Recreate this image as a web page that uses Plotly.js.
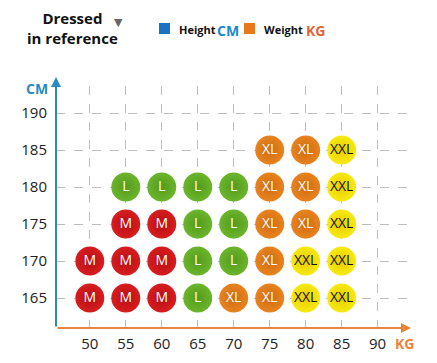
<!DOCTYPE html>
<html><head><meta charset="utf-8">
<script src="https://cdn.plot.ly/plotly-3.0.1.min.js"></script>
<style>html,body{margin:0;padding:0;background:#fff;}#chart{width:437px;height:363px;}</style>
</head><body><div id="chart"></div>
<script>
// ---- data ----
const weightTicks = [50, 55, 60, 65, 70, 75, 80, 85, 90];
const heightTicks = [165, 170, 175, 180, 185, 190];
const pointWeight = [75, 80, 85,
  55, 60, 65, 70, 75, 80, 85,
  55, 60, 65, 70, 75, 80, 85,
  50, 55, 60, 65, 70, 75, 80, 85,
  50, 55, 60, 65, 70, 75, 80, 85];
const pointHeight = [185, 185, 185,
  180, 180, 180, 180, 180, 180, 180,
  175, 175, 175, 175, 175, 175, 175,
  170, 170, 170, 170, 170, 170, 170, 170,
  165, 165, 165, 165, 165, 165, 165, 165];
const pointSize = ['XL', 'XL', 'XXL',
  'L', 'L', 'L', 'L', 'XL', 'XL', 'XXL',
  'M', 'M', 'L', 'L', 'XL', 'XL', 'XXL',
  'M', 'M', 'M', 'L', 'L', 'XL', 'XXL', 'XXL',
  'M', 'M', 'M', 'L', 'XL', 'XL', 'XXL', 'XXL'];
const sizeNames = ['M', 'L', 'XL', 'XXL'];
const sizeColors = ['#d71d1f', '#6bb52c', '#e8831f', '#f7ea10'];
const sizeEdge = ['#b80f12', '#559a1c', '#cf6c10', '#e8cc00'];
const sizeText = ['#ffffff', '#ffffff', '#ffffff', '#111111'];
const titleText = 'Dressed<br>in reference';
const legendLabels = ['Height', 'Weight'];
const legendUnits = ['CM', 'KG'];

// ---- layout helpers ----
const W = 437, H = 363, L = 56, R = 27, T = 86, B = 35;
const pw = W - L - R, ph = H - T - B;
const px = x => (x - L) / pw;
const py = y => (H - B - y) / ph;

const traces = sizeNames.map((s, i) => {
  const idx = pointSize.map((v, k) => v === s ? k : -1).filter(k => k >= 0);
  return {
    type: 'scatter', mode: 'markers+text',
    x: idx.map(k => pointWeight[k]), y: idx.map(k => pointHeight[k]),
    text: idx.map(k => pointSize[k]), textposition: 'middle center',
    textfont: {family: 'Open Sans, sans-serif', size: 14, color: sizeText[i]},
    marker: {size: 29, color: sizeColors[i], line: {width: 0},
      gradient: {type: 'radial', color: sizeEdge[i]}},
    showlegend: false, hoverinfo: 'skip', cliponaxis: false
  };
});

const blue = '#2a8bc4', orange = '#e8843a';
const txt = (x, y, text, font, xanchor) => ({xref: 'paper', yref: 'paper', x: px(x), y: py(y),
  xanchor: xanchor || 'center', yanchor: 'middle', text: text, showarrow: false, font: font, align: 'center'});
const annotations = [
  txt(72, 28, titleText, {family: 'Open Sans, sans-serif', size: 15, color: '#111', weight: 'bold'}),
  txt(118, 22, '▼', {family: 'DejaVu Sans', size: 11, color: '#666'}),
  txt(177, 29, legendLabels[0], {family: 'Open Sans, sans-serif', size: 11, color: '#111', weight: 'bold'}, 'left'),
  txt(215, 30, legendUnits[0], {family: 'Open Sans, sans-serif', size: 14, color: '#1a8ad0', weight: 'bold'}, 'left'),
  txt(262, 29, legendLabels[1], {family: 'Open Sans, sans-serif', size: 11, color: '#111', weight: 'bold'}, 'left'),
  txt(304, 30, legendUnits[1], {family: 'Open Sans, sans-serif', size: 14, color: '#e0643a', weight: 'bold'}, 'left'),
  txt(37, 88, legendUnits[0], {family: 'Open Sans, sans-serif', size: 14, color: blue, weight: 'bold'}),
  txt(404, 343, legendUnits[1], {family: 'Open Sans, sans-serif', size: 14, color: orange, weight: 'bold'}),
  // y axis arrow
  {xref: 'paper', yref: 'paper', x: 0, y: py(77), ax: 0, ay: 251, axref: 'pixel', ayref: 'pixel',
   text: '', showarrow: true, arrowhead: 2, arrowsize: 1, arrowwidth: 2, arrowcolor: blue},
  // x axis arrow
  {xref: 'paper', yref: 'paper', x: px(411), y: 0, ax: -355, ay: 0, axref: 'pixel', ayref: 'pixel',
   text: '', showarrow: true, arrowhead: 2, arrowsize: 1, arrowwidth: 2, arrowcolor: orange}
];

const shapes = [
  {type: 'rect', xref: 'paper', yref: 'paper', x0: px(159), x1: px(170), y0: py(34), y1: py(23),
   fillcolor: '#1a72c2', line: {width: 0}},
  {type: 'rect', xref: 'paper', yref: 'paper', x0: px(244), x1: px(255), y0: py(34), y1: py(23),
   fillcolor: '#e87a1c', line: {width: 0}}
];

const layout = {
  width: W, height: H, margin: {l: L, r: R, t: T, b: B},
  paper_bgcolor: '#fff', plot_bgcolor: '#fff',
  showlegend: false,
  xaxis: {range: [45.3, 94.5], tickvals: weightTicks, ticktext: weightTicks.map(String),
    showgrid: true, gridcolor: '#bdbdbd', griddash: 'dash', gridwidth: 1,
    zeroline: false, showline: false, ticks: '', ticklabelstandoff: 5,
    tickfont: {family: 'Open Sans, sans-serif', size: 15, color: '#222'}, fixedrange: true},
  yaxis: {range: [160.95, 193.65], tickvals: heightTicks, ticktext: heightTicks.map(String),
    showgrid: true, gridcolor: '#bdbdbd', griddash: 'dash', gridwidth: 1,
    zeroline: false, showline: false, ticks: '', ticklabelstandoff: 8,
    tickfont: {family: 'Open Sans, sans-serif', size: 15, color: '#222'}, fixedrange: true},
  annotations: annotations, shapes: shapes
};

Plotly.newPlot('chart', traces, layout, {displayModeBar: false, staticPlot: true});
</script></body></html>
